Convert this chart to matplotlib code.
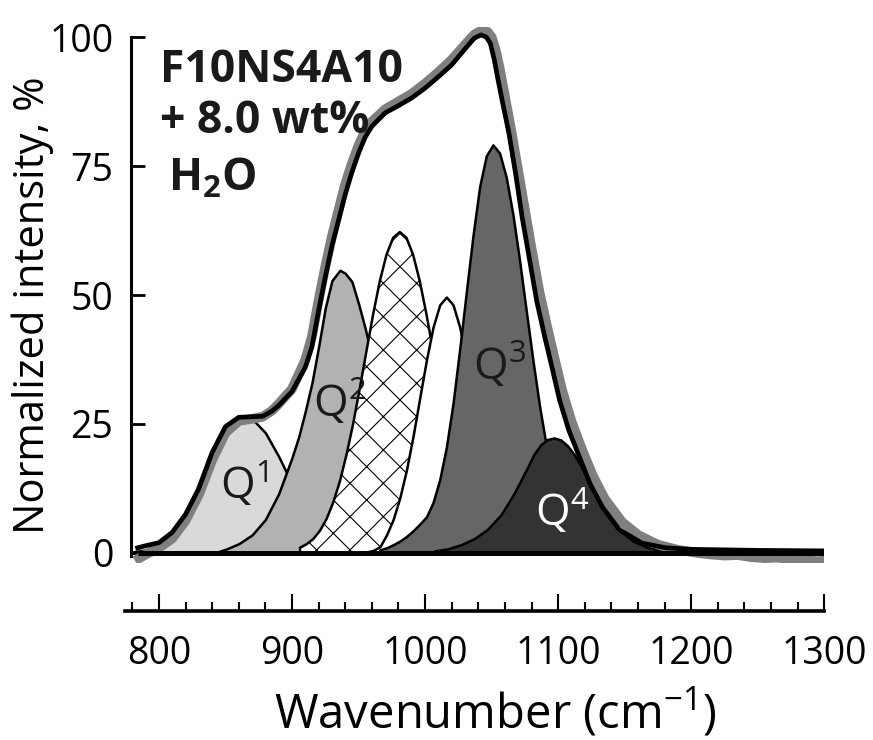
import matplotlib.pyplot as plt
from matplotlib.ticker import MultipleLocator

plt.rcParams['font.family'] = ['Open Sans', 'DejaVu Sans']
plt.rcParams['mathtext.default'] = 'regular'
plt.rcParams['hatch.linewidth'] = 0.8

# fitted bands (wavenumber cm-1, normalized intensity %)
q1_x = [780, 790, 800, 810, 820, 830, 840, 850, 860, 865, 870, 880, 890, 900, 910, 920, 930, 940, 950, 960]
q1_y = [0.2, 0.6, 1.5, 3.3, 6.6, 11.4, 17.2, 22.6, 26.0, 26.4, 26.0, 23.3, 18.7, 13.4, 8.6, 4.9, 2.5, 1.2, 0.5, 0.2]

q2_x = [845, 850, 860, 870, 880, 890, 895, 900, 905, 910, 915, 920, 925, 930, 936, 940, 945, 950, 955, 960,
        970, 980, 990, 1000, 1010, 1020]
q2_y = [0.3, 0.7, 1.8, 3.5, 6.5, 11.5, 15.0, 18.5, 22.5, 27.5, 33.0, 40.0, 47.5, 52.8, 54.8, 54.2, 52.6, 48.3, 43.5, 38.0,
        26.2, 15.9, 8.5, 4.0, 1.7, 0.6]

hatch_x = [906, 911, 916, 921, 926, 931, 936, 941, 946, 951, 956, 961, 966, 971, 976, 981, 986, 991, 996, 1001,
           1006, 1011, 1016, 1021, 1026, 1031, 1036, 1041, 1046, 1051, 1056]
hatch_y = [1.0, 1.7, 2.7, 4.3, 6.6, 9.8, 13.9, 19.1, 25.1, 32.0, 39.2, 46.3, 52.7, 57.8, 61.1, 62.2, 61.1, 57.8, 52.7, 46.3,
           39.2, 32.0, 25.1, 19.1, 13.9, 9.8, 6.6, 4.3, 2.7, 1.7, 1.0]

white_x = [956, 961, 966, 971, 976, 981, 986, 991, 996, 1001, 1006, 1011, 1016, 1021, 1026, 1031, 1036, 1041, 1046, 1051,
           1056, 1061, 1066, 1071, 1076]
white_y = [0.2, 0.5, 1.2, 3.5, 6.5, 10.7, 16.1, 22.7, 30.1, 37.4, 43.8, 48.1, 49.6, 48.1, 43.8, 37.4, 30.1, 22.7, 16.1, 10.7,
           6.7, 3.9, 2.2, 1.1, 0.5]

q3_x = [966, 971, 976, 981, 986, 991, 996, 1001, 1006, 1011, 1016, 1021, 1026, 1031, 1036, 1041, 1046, 1051, 1056, 1061,
        1066, 1071, 1076, 1081, 1086, 1091, 1096, 1101, 1106, 1111, 1116, 1121, 1126, 1131]
q3_y = [0.6, 1.0, 1.6, 2.3, 3.2, 4.3, 5.6, 7.0, 9.8, 14.2, 20.5, 29.0, 39.5, 50.6, 61.5, 71.0, 77.0, 79.1, 77.5, 72.8,
        65.6, 56.7, 47.0, 37.4, 28.5, 20.9, 14.6, 9.9, 6.4, 3.9, 2.3, 1.3, 0.7, 0.3]

q4_x = [1007, 1017, 1027, 1037, 1047, 1057, 1067, 1077, 1082, 1087, 1092, 1097, 1102, 1107, 1112, 1117, 1122, 1127, 1132, 1137,
        1142, 1147, 1157, 1167, 1177, 1187]
q4_y = [0.4, 0.8, 1.6, 2.8, 4.6, 7.4, 11.6, 16.6, 19.2, 21.0, 22.0, 22.3, 21.9, 20.8, 19.1, 16.9, 14.5, 12.0, 9.6, 7.4,
        5.6, 4.2, 2.2, 1.1, 0.5, 0.2]

# fitted envelope (black) and measured spectrum (grey)
env_x = [784, 790, 800, 810, 820, 830, 840, 850, 860, 870, 878, 885, 890, 900, 910, 915, 920, 925, 930, 935,
         940, 945, 950, 955, 960, 970, 980, 990, 1000, 1010, 1020, 1030, 1037, 1042, 1046, 1049, 1052, 1055, 1058, 1063,
         1068, 1073, 1078, 1084, 1090, 1095, 1101, 1108, 1116, 1124, 1133, 1146, 1163, 1181, 1200, 1250, 1300]
env_y = [1.0, 1.4, 2.0, 4.0, 7.5, 12.5, 19.5, 24.5, 26.3, 26.4, 26.5, 27.5, 28.6, 31.3, 36.0, 40.0, 47.0, 53.5, 59.5, 64.5,
         69.5, 73.8, 77.5, 80.6, 82.7, 85.3, 86.7, 88.2, 90.1, 92.3, 94.6, 97.7, 99.8, 100.4, 100.0, 98.8, 95.6, 91.5, 87.6, 81.4,
         73.6, 65.0, 57.6, 48.7, 41.8, 36.4, 29.7, 23.8, 18.6, 13.4, 9.0, 4.5, 1.9, 1.0, 0.7, 0.5, 0.4]

meas_x = [782, 790, 800, 810, 820, 830, 840, 850, 860, 870, 878, 885, 890, 900, 910, 915, 920, 925, 930, 935,
          940, 945, 950, 955, 960, 970, 980, 990, 1000, 1010, 1020, 1030, 1037, 1042, 1047, 1050, 1053, 1056, 1060, 1065,
          1070, 1075, 1080, 1086, 1092, 1097, 1103, 1110, 1118, 1126, 1135, 1148, 1160, 1175, 1190, 1205, 1215, 1225, 1235, 1245,
          1255, 1265, 1275, 1285, 1295, 1300]
meas_y = [-1.5, -0.3, 1.0, 2.8, 6.3, 11.3, 18.0, 23.3, 25.6, 26.0, 26.4, 27.6, 28.9, 31.8, 37.4, 42.0, 49.0, 55.5, 61.4, 66.5,
          71.5, 75.5, 79.0, 81.8, 83.6, 86.0, 87.5, 89.0, 91.0, 93.2, 95.6, 98.5, 100.5, 101.2, 101.0, 100.0, 97.5, 94.0, 88.5, 81.5,
          74.0, 66.5, 59.0, 50.5, 43.5, 38.0, 31.5, 25.5, 20.0, 15.0, 10.5, 6.0, 3.5, 1.6, 0.6, 0.0, -0.3, -0.5, -0.4, -0.8,
          -1.0, -0.9, -1.3, -1.4, -1.6, -1.5]

baseline_start, baseline_end = 784, 1300
x_major = [800, 900, 1000, 1100, 1200, 1300]
y_major = [0, 25, 50, 75, 100]

fig = plt.figure(figsize=(8.73, 7.4), dpi=100)
ax = fig.add_axes([0.1432, 0.2388, 0.801, 0.7251])

# bands, back to front
ax.fill_between(q1_x, q1_y, 0, facecolor='#d9d9d9', edgecolor='black', lw=1.8, zorder=2)
ax.fill_between(q2_x, q2_y, 0, facecolor='#b2b2b2', edgecolor='black', lw=1.8, zorder=3)
ax.fill_between(hatch_x, hatch_y, 0, facecolor='white', edgecolor='black', hatch='x', lw=1.8, zorder=4)
ax.fill_between(white_x, white_y, 0, facecolor='white', edgecolor='black', lw=1.8, zorder=5)
ax.fill_between(q3_x, q3_y, 0, facecolor='#666666', edgecolor='black', lw=1.8, zorder=6)
ax.fill_between(q4_x, q4_y, 0, facecolor='#333333', edgecolor='black', lw=1.8, zorder=7)

ax.plot(meas_x, meas_y, color='#7f7f7f', lw=7, solid_capstyle='butt', zorder=8)
ax.hlines(0, baseline_start, baseline_end, color='black', lw=3.6, zorder=9)
ax.plot(env_x, env_y, color='black', lw=3.4, zorder=10)

# band labels
ax.text(845.8, 10.3, 'Q$^1$', fontsize=32, color='#1a1a1a', zorder=11)
ax.text(915.6, 26.4, 'Q$^2$', fontsize=32, color='#1a1a1a', zorder=11)
ax.text(1035.8, 33.5, 'Q$^3$', fontsize=32, color='#1a1a1a', zorder=11)
ax.text(1082.3, 5.0, 'Q$^4$', fontsize=32, color='white', zorder=11)

ax.set_xlim(774.5, 1300)
ax.set_ylim(-2, 102)

for s in ['top', 'right']:
    ax.spines[s].set_visible(False)
ax.spines['left'].set_position(('data', 779.3))
ax.spines['left'].set_bounds(-0.6, 100)
ax.spines['left'].set_linewidth(2.2)
ax.spines['bottom'].set_position(('outward', 34.3))
ax.spines['bottom'].set_linewidth(2.6)

ax.set_xticks(x_major)
ax.xaxis.set_minor_locator(MultipleLocator(20))
ax.set_yticks(y_major)
ax.tick_params(axis='x', which='major', direction='in', length=12, width=1.5, labelsize=27, pad=17)
ax.tick_params(axis='x', which='minor', direction='in', length=6.5, width=1.5)
ax.tick_params(axis='y', direction='in', length=10, width=2, labelsize=27, pad=13)

fig.text(0.1833, 0.8892, 'F10NS4A10', fontsize=32, fontweight='bold', color='#1a1a1a')
fig.text(0.1833, 0.8203, '+ 8.0 wt%', fontsize=32, fontweight='bold', color='#1a1a1a')
fig.text(0.1924, 0.7432, 'H$_2$O', fontsize=32, fontweight='bold', color='#1a1a1a')

fig.text(0.038, 0.588, 'Normalized intensity, %', fontsize=30, rotation=90, ha='center', va='center')
fig.text(0.567, 0.037, 'Wavenumber (cm$^{-1}$)', fontsize=34, ha='center', va='center')

fig.savefig('out.png', dpi=100)
